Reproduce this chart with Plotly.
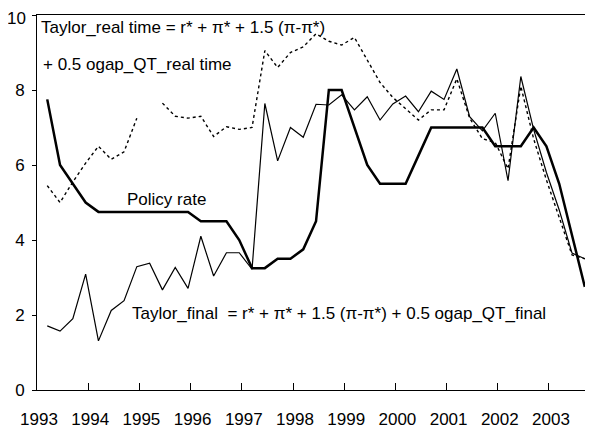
import pandas as pd
import plotly.graph_objects as go

OUTPUT_PATH = "out.html"
FONT = "Liberation Sans, Arial, sans-serif"

# quarterly observations, 1993Q2 .. 2003Q4
quarters = pd.period_range("1993Q2", "2003Q4", freq="Q")

policy_rate = [7.75, 6.0, 5.5, 5.0, 4.75, 4.75, 4.75, 4.75, 4.75, 4.75, 4.75, 4.75,
               4.5, 4.5, 4.5, 4.0, 3.25, 3.25, 3.5, 3.5, 3.75, 4.5, 8.0, 8.0, 7.0,
               6.0, 5.5, 5.5, 5.5, 6.25, 7.0, 7.0, 7.0, 7.0, 7.0, 6.5, 6.5, 6.5,
               7.0, 6.5, 5.5, 4.1, 2.75]

taylor_final = [1.71, 1.57, 1.9, 3.09, 1.31, 2.12, 2.38, 3.29, 3.38, 2.67,
                3.27, 2.71, 4.1, 3.04, 3.66, 3.66, 3.22, 7.64, 6.11, 7.0,
                6.74, 7.62, 7.6, 7.87, 7.47, 7.82, 7.2, 7.63, 7.84, 7.42,
                7.97, 7.75, 8.56, 7.29, 6.91, 7.38, 5.58, 8.36, 6.95, 5.8,
                4.8, 3.65, 3.5]

taylor_real_time = [5.45, 5.0, 5.55, 6.05, 6.5, 6.15, 6.35, 7.25, None, 7.65,
                    7.3, 7.25, 7.3, 6.76, 7.02, 6.95, 7.0, 9.05, 8.6, 9.0,
                    9.15, 9.5, 9.3, 9.2, 9.4, 8.8, 8.2, 7.8, 7.5, 7.2,
                    7.47, 7.47, 8.3, 7.25, 6.7, 6.6, 5.9, 8.1, 6.7, 5.6,
                    4.6, 3.6, 3.5]

year_ticks = list(range(1993, 2004))
y_ticks = [0, 2, 4, 6, 8, 10]

# (text, x paper, y paper)
labels = [
    ("Taylor_real time = r* + π* + 1.5 (π-π*)", 0.003, 0.966),
    ("+ 0.5 ogap_QT_real time", 0.008, 0.867),
    ("Policy rate", 0.159, 0.507),
    ("Taylor_final\u00a0 = r* + π* + 1.5 (π-π*) + 0.5 ogap_QT_final", 0.168, 0.204),
]


def build_figure() -> go.Figure:
    x = [p.year + (p.quarter - 1) / 4 - 0.05 for p in quarters]

    fig = go.Figure()
    fig.add_trace(go.Scatter(x=x, y=taylor_real_time, mode="lines", name="Taylor_real time",
                             line={"color": "black", "width": 1.4, "dash": "dot"},
                             connectgaps=False))
    fig.add_trace(go.Scatter(x=x, y=taylor_final, mode="lines", name="Taylor_final",
                             line={"color": "black", "width": 1.2}))
    fig.add_trace(go.Scatter(x=x, y=policy_rate, mode="lines", name="Policy rate",
                             line={"color": "black", "width": 2.5}))

    for text, px, py in labels:
        fig.add_annotation(text=text, x=px, y=py, xref="paper", yref="paper",
                           xanchor="left", yanchor="middle", showarrow=False,
                           font={"family": FONT, "size": 17, "color": "black"})

    # top tick label sits a little below its tick, like the original
    fig.add_annotation(text=str(y_ticks[-1]), x=-0.017, y=0.991, xref="paper", yref="paper",
                       xanchor="right", yanchor="middle", showarrow=False,
                       font={"family": FONT, "size": 17, "color": "black"})

    # page body has an 8px margin, so the figure is 8px smaller than the window
    fig.update_layout(
        width=585, height=424,
        margin={"l": 29, "r": 1, "t": 7, "b": 42},
        paper_bgcolor="white", plot_bgcolor="white",
        showlegend=False,
        font={"family": FONT, "size": 17, "color": "black"},
    )
    fig.update_xaxes(
        range=[1993, 2003.84], tickvals=year_ticks, ticktext=[str(y) for y in year_ticks],
        ticks="inside", ticklen=7, tickcolor="black", showgrid=False, zeroline=False,
        showline=True, linecolor="black", linewidth=1, mirror=True,
        automargin=False, ticklabelstandoff=14, ticklabelshift=2,
        ticklabeloverflow="allow",
    )
    fig.update_yaxes(
        range=[0, 10], tickvals=y_ticks,
        ticktext=[str(v) if v != y_ticks[-1] else "" for v in y_ticks],
        ticks="outside", ticklen=4, tickcolor="black", showgrid=False, zeroline=False,
        showline=True, linecolor="black", linewidth=1,
        automargin=False, ticklabelstandoff=4, ticklabeloverflow="allow",
    )
    return fig


def main():
    fig = build_figure()
    fig.write_html(OUTPUT_PATH)


if __name__ == "__main__":
    main()
